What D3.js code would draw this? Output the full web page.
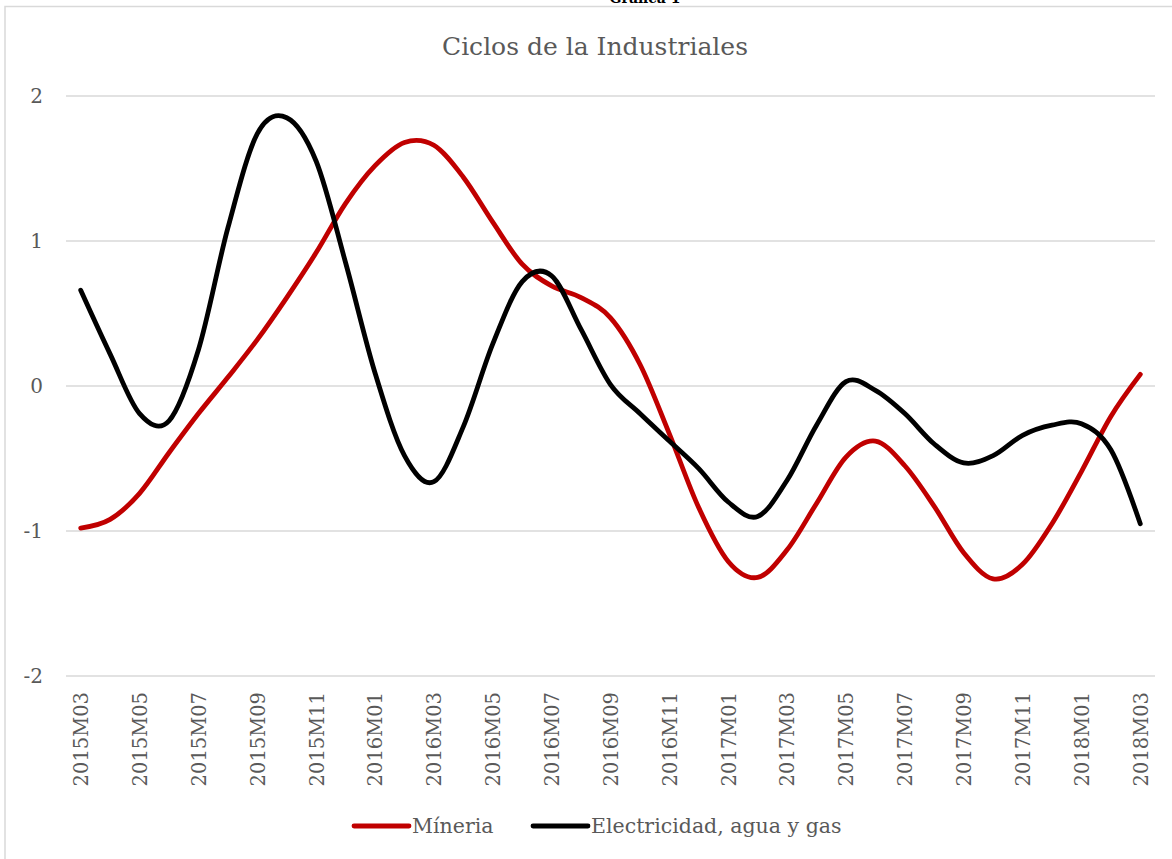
<!DOCTYPE html>
<html>
<head>
  <meta charset="utf-8">
  <title>Ciclos de la Industriales</title>
  <style type="text/css">
body{
  margin: 0;
  background: #fff;
}
text{
  font-family: "DejaVu Serif", serif;
}
  </style>
</head>
<body>
<div id="chart"></div>
<script src="https://cdn.jsdelivr.net/npm/d3@7"></script>
<script type="text/javascript">
// months 2015M03 .. 2018M03
var months = [];
for (var yr = 2015; yr <= 2018; yr++) {
  for (var m = 1; m <= 12; m++) {
    if ((yr === 2015 && m < 3) || (yr === 2018 && m > 3)) continue;
    months.push(yr + "M" + (m < 10 ? "0" + m : m));
  }
}

var mineria = [-0.98, -0.92, -0.74, -0.46, -0.19, 0.06, 0.32, 0.61, 0.92, 1.26,
  1.52, 1.68, 1.66, 1.44, 1.13, 0.84, 0.69, 0.61, 0.47, 0.15,
  -0.33, -0.84, -1.21, -1.32, -1.13, -0.81, -0.49, -0.38, -0.55, -0.83,
  -1.15, -1.33, -1.23, -0.95, -0.59, -0.21, 0.08];

var electricidad = [0.66, 0.22, -0.19, -0.24, 0.25, 1.09, 1.74, 1.85, 1.55, 0.85,
  0.09, -0.48, -0.66, -0.28, 0.29, 0.72, 0.76, 0.39, 0.01, -0.19,
  -0.38, -0.57, -0.80, -0.90, -0.65, -0.27, 0.03, -0.03, -0.19, -0.40,
  -0.53, -0.48, -0.34, -0.27, -0.26, -0.44, -0.95];

var yTicks = [-2, -1, 0, 1, 2];
var seriesNames = ["Míneria", "Electricidad, agua y gas"];
var seriesColors = ["#C00000", "#000000"];

var W = 1172, H = 859;
var svg = d3.select("#chart").append("svg")
    .attr("width", W)
    .attr("height", H);

// frame of the chart area (runs off the picture on the right and bottom)
svg.append("rect")
    .attr("x", 5).attr("y", 6.5)
    .attr("width", 1200).attr("height", 900)
    .style("fill", "none")
    .style("stroke", "#D9D9D9")
    .style("stroke-width", 1.5);

// caption cut off at the top, as in the source
svg.append("text")
    .attr("x", 645)
    .attr("y", 3)
    .style("text-anchor", "middle")
    .style("font-weight", "bold")
    .style("font-size", "14px")
    .text("Gráfica 1");

svg.append("text")
    .attr("x", 595)
    .attr("y", 55)
    .style("text-anchor", "middle")
    .style("font-size", "25px")
    .style("fill", "#595959")
    .text("Ciclos de la Industriales");

var x = d3.scalePoint().domain(months).range([66, 1155]).padding(0.5);
var y = d3.scaleLinear().domain([-2, 2]).range([676, 96]);

// gridlines
svg.selectAll(".grid")
  .data(yTicks)
  .enter()
  .append("line")
    .attr("x1", 66).attr("x2", 1155)
    .attr("y1", function (d) { return y(d); })
    .attr("y2", function (d) { return y(d); })
    .style("stroke", "#D9D9D9")
    .style("stroke-width", 1.3);

var yAxis = d3.axisLeft(y).tickValues(yTicks).tickSize(0).tickPadding(0)
    .tickFormat(function (d) { return String(d); });
var gy = svg.append("g").attr("transform", "translate(43,0)").call(yAxis);
gy.select(".domain").remove();
gy.selectAll("text")
    .style("font-family", "DejaVu Serif, serif")
    .style("font-size", "20px")
    .style("fill", "#595959");

var xAxis = d3.axisBottom(x)
    .tickValues(months.filter(function (d, i) { return i % 2 === 0; }))
    .tickSize(0);
var gx = svg.append("g").attr("transform", "translate(0,676)").call(xAxis);
gx.select(".domain").remove();
gx.selectAll("text")
    .attr("transform", "rotate(-90)")
    .attr("x", -16)
    .attr("y", 0)
    .attr("dy", "0.35em")
    .style("text-anchor", "end")
    .style("font-family", "DejaVu Serif, serif")
    .style("font-size", "19.5px")
    .style("fill", "#595959");

var line = d3.line()
    .x(function (d, i) { return x(months[i]); })
    .y(function (d) { return y(d); })
    .curve(d3.curveCatmullRom.alpha(0));

[mineria, electricidad].forEach(function (s, k) {
  svg.append("path")
      .datum(s)
      .attr("d", line)
      .style("fill", "none")
      .style("stroke", seriesColors[k])
      .style("stroke-width", 4.8)
      .style("stroke-linecap", "round")
      .style("stroke-linejoin", "round");
});

// legend
var legendX = [354, 533];
seriesNames.forEach(function (n, k) {
  svg.append("line")
      .attr("x1", legendX[k]).attr("x2", legendX[k] + 55)
      .attr("y1", 826).attr("y2", 826)
      .style("stroke", seriesColors[k])
      .style("stroke-width", 4.8)
      .style("stroke-linecap", "round");
  svg.append("text")
      .attr("x", legendX[k] + 58)
      .attr("y", 833)
      .style("font-size", "20.5px")
      .style("fill", "#595959")
      .text(n);
});
</script>
</body>
</html>
